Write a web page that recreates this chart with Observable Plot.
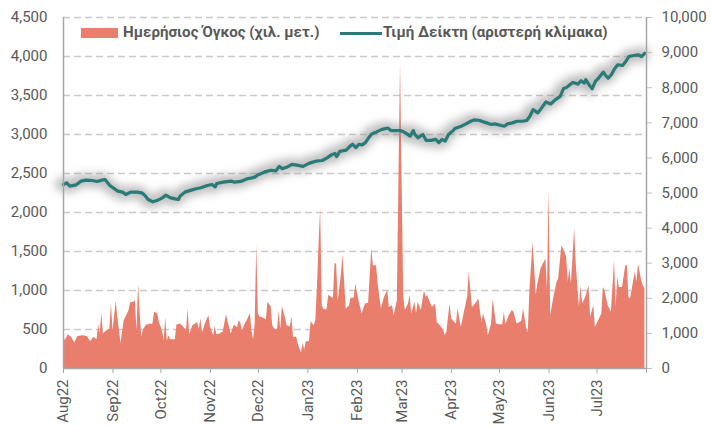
<!DOCTYPE html>
<html><head><meta charset="utf-8">
<script src="https://cdn.jsdelivr.net/npm/d3@7"></script>
<script src="https://cdn.jsdelivr.net/npm/@observablehq/plot@0.6"></script>
<style>
body{margin:0;background:#fff;}
#chart{position:relative;width:711px;height:426px;font-family:Roboto,sans-serif;}
.lt{position:absolute;font-size:15.1px;font-weight:bold;color:#595959;white-space:nowrap;line-height:17px;}
.sw{position:absolute;}
</style></head><body><div id="chart"></div>
<script>
// Legend labels
const seriesNames = ["Ημερήσιος Όγκος (χιλ. μετ.)", "Τιμή Δείκτη (αριστερή κλίμακα)"];

// Daily volume (right scale, 0–10,000)
const volDates = [
"2022-08-01","2022-08-02","2022-08-04","2022-08-06","2022-08-08","2022-08-10","2022-08-13","2022-08-16","2022-08-18","2022-08-20","2022-08-22","2022-08-23","2022-08-24","2022-08-25","2022-08-26","2022-08-28","2022-08-30","2022-08-31",
"2022-09-01","2022-09-03","2022-09-04","2022-09-06","2022-09-08","2022-09-11","2022-09-12","2022-09-14","2022-09-15","2022-09-16","2022-09-17","2022-09-18","2022-09-19","2022-09-20","2022-09-22","2022-09-26","2022-09-27","2022-09-29","2022-09-30",
"2022-10-02","2022-10-03","2022-10-04","2022-10-05","2022-10-06","2022-10-07","2022-10-10","2022-10-11","2022-10-13","2022-10-15","2022-10-17","2022-10-18","2022-10-19","2022-10-21","2022-10-24","2022-10-25","2022-10-26","2022-10-27","2022-10-29","2022-10-31",
"2022-11-01","2022-11-03","2022-11-04","2022-11-05","2022-11-07","2022-11-09","2022-11-11","2022-11-13","2022-11-14","2022-11-16","2022-11-18","2022-11-19","2022-11-20","2022-11-21","2022-11-23","2022-11-24","2022-11-26","2022-11-27","2022-11-28","2022-11-29","2022-11-30",
"2022-12-01","2022-12-02","2022-12-04","2022-12-06","2022-12-07","2022-12-09","2022-12-10","2022-12-11","2022-12-13","2022-12-14","2022-12-15","2022-12-16","2022-12-18","2022-12-19","2022-12-21","2022-12-22","2022-12-23","2022-12-25","2022-12-26","2022-12-28","2022-12-29","2022-12-30","2022-12-31",
"2023-01-02","2023-01-03","2023-01-05","2023-01-06","2023-01-07","2023-01-08","2023-01-09","2023-01-10","2023-01-11","2023-01-13","2023-01-14","2023-01-16","2023-01-17","2023-01-18","2023-01-19","2023-01-20","2023-01-22","2023-01-23","2023-01-25","2023-01-27","2023-01-28","2023-01-30","2023-01-31",
"2023-02-02","2023-02-04","2023-02-06","2023-02-08","2023-02-10","2023-02-11","2023-02-13","2023-02-14","2023-02-16","2023-02-18","2023-02-20","2023-02-21","2023-02-23","2023-02-24","2023-02-26","2023-02-28",
"2023-03-02","2023-03-03","2023-03-05","2023-03-06","2023-03-07","2023-03-09","2023-03-10","2023-03-11","2023-03-13","2023-03-15","2023-03-16","2023-03-17","2023-03-19","2023-03-20","2023-03-22","2023-03-23","2023-03-25","2023-03-27","2023-03-28","2023-03-29","2023-03-31",
"2023-04-01","2023-04-02","2023-04-04","2023-04-05","2023-04-07","2023-04-09","2023-04-11","2023-04-12","2023-04-14","2023-04-16","2023-04-18","2023-04-20","2023-04-21","2023-04-23","2023-04-24","2023-04-26","2023-04-27","2023-04-29",
"2023-05-01","2023-05-03","2023-05-04","2023-05-05","2023-05-07","2023-05-09","2023-05-10","2023-05-12","2023-05-14","2023-05-15","2023-05-16","2023-05-18","2023-05-19","2023-05-20","2023-05-22","2023-05-24","2023-05-25","2023-05-27","2023-05-29","2023-05-30","2023-05-31",
"2023-06-01","2023-06-02","2023-06-04","2023-06-06","2023-06-07","2023-06-09","2023-06-10","2023-06-12","2023-06-13","2023-06-14","2023-06-15","2023-06-17","2023-06-18","2023-06-20","2023-06-21","2023-06-22","2023-06-24","2023-06-26","2023-06-27","2023-06-29","2023-06-30",
"2023-07-02","2023-07-04","2023-07-05","2023-07-06","2023-07-08","2023-07-09","2023-07-10","2023-07-12","2023-07-13","2023-07-14","2023-07-15","2023-07-17","2023-07-19","2023-07-20","2023-07-21","2023-07-22","2023-07-24","2023-07-25","2023-07-26","2023-07-27","2023-07-29","2023-07-30","2023-07-31"];
const volValues = [
1070,780,960,890,730,910,930,910,760,890,820,1240,1000,1580,980,1070,1110,1840,
1070,1910,1470,710,1360,1640,1870,1890,1930,1070,2400,1560,890,1090,1240,1270,1600,1560,1310,
1070,780,1440,780,930,820,820,1240,1270,1200,1070,1690,960,1220,1310,1110,1420,1020,1290,1510,
1180,930,1200,960,980,1040,1530,1160,980,1240,1160,1360,1290,1070,1290,1360,1560,1070,820,1270,3510,
1560,1470,1440,1380,1890,1760,1220,1130,1090,1640,1110,1760,1440,1220,1180,1470,890,890,690,440,710,530,760,
760,1330,1220,1380,2330,3560,4560,1780,1690,1670,2090,2020,2000,3000,2960,1930,2670,3240,1690,1780,2000,2000,2400,
1920,1550,1840,1860,3410,2930,2930,2410,1700,2030,2220,1740,1790,1500,1930,8700,
2030,1650,1840,2080,1550,1890,1550,1890,1650,2220,2030,2080,1840,1740,1840,1310,1220,1080,930,1030,1840,
1410,1360,1270,1700,1170,1600,2030,2740,1740,1840,1980,1310,1550,1220,930,1270,1980,1270,
1250,1250,1600,1250,1500,1650,1600,1270,1310,1360,1700,1120,1030,2220,3600,2080,2410,2840,3030,3120,2220,
5100,1500,2030,2460,2550,3500,3410,3170,2460,2840,2410,3980,2980,1740,2360,1840,2030,2360,1460,1790,1170,
1360,1550,2310,2220,1790,1700,1600,3080,1740,2600,2310,2310,2930,2930,2030,1980,2500,2740,2460,2980,2500,2360,2270];

// Index price (left scale, 0–4,500)
const idxDates = [
"2022-08-01","2022-08-03","2022-08-05","2022-08-09","2022-08-12","2022-08-15","2022-08-19","2022-08-22","2022-08-25","2022-08-27","2022-08-30",
"2022-09-04","2022-09-07","2022-09-09","2022-09-12","2022-09-16","2022-09-19","2022-09-21","2022-09-23","2022-09-26","2022-09-29",
"2022-10-02","2022-10-04","2022-10-07","2022-10-10","2022-10-12","2022-10-13","2022-10-16","2022-10-20","2022-10-23","2022-10-26","2022-10-30",
"2022-11-02","2022-11-04","2022-11-05","2022-11-09","2022-11-14","2022-11-16","2022-11-20","2022-11-24","2022-11-27","2022-11-29",
"2022-12-01","2022-12-02","2022-12-05","2022-12-09","2022-12-12","2022-12-14","2022-12-16","2022-12-19","2022-12-22","2022-12-26","2022-12-29",
"2023-01-02","2023-01-06","2023-01-10","2023-01-13","2023-01-16","2023-01-18","2023-01-19","2023-01-21","2023-01-25","2023-01-27","2023-01-29","2023-01-31",
"2023-02-02","2023-02-04","2023-02-06","2023-02-08","2023-02-10","2023-02-13","2023-02-16","2023-02-20","2023-02-22","2023-02-25","2023-02-28",
"2023-03-02","2023-03-04","2023-03-06","2023-03-08","2023-03-09","2023-03-11","2023-03-14","2023-03-16","2023-03-19","2023-03-22","2023-03-24","2023-03-26","2023-03-28","2023-03-30",
"2023-04-02","2023-04-03","2023-04-07","2023-04-10","2023-04-13","2023-04-15","2023-04-18","2023-04-21","2023-04-23","2023-04-26","2023-04-28",
"2023-05-02","2023-05-04","2023-05-06","2023-05-09","2023-05-12","2023-05-15","2023-05-18","2023-05-20","2023-05-22","2023-05-25","2023-05-27","2023-05-30",
"2023-06-02","2023-06-05","2023-06-08","2023-06-10","2023-06-12","2023-06-14","2023-06-16","2023-06-19","2023-06-21","2023-06-23","2023-06-24","2023-06-26","2023-06-28","2023-06-30",
"2023-07-02","2023-07-05","2023-07-06","2023-07-08","2023-07-10","2023-07-12","2023-07-14","2023-07-17","2023-07-19","2023-07-21","2023-07-24","2023-07-27","2023-07-29","2023-07-31"];
const idxValues = [
2359,2380,2338,2355,2402,2415,2410,2398,2415,2423,2346,
2274,2261,2231,2261,2261,2252,2218,2167,2137,2158,
2188,2222,2188,2175,2167,2210,2261,2287,2304,2317,2346,
2359,2329,2372,2389,2402,2389,2398,2432,2444,2457,
2487,2492,2521,2542,2533,2592,2562,2583,2617,2604,2592,
2633,2658,2667,2700,2742,2758,2717,2783,2800,2842,2875,2833,
2875,2867,2896,2958,3008,3033,3063,3083,3050,3050,3050,
3033,3008,2979,3050,3000,2958,3000,2925,2925,2938,2896,2938,2917,3000,
3050,3077,3106,3136,3170,3187,3183,3162,3149,3128,3136,
3115,3106,3136,3149,3170,3170,3179,3234,3319,3277,3332,3417,
3391,3447,3489,3587,3604,3638,3668,3647,3689,3660,3702,3638,3587,3681,
3723,3800,3766,3723,3766,3843,3894,3885,3936,4000,4013,4021,4000,4043];

// Axes
const monthTicks = ["2022-08-01","2022-09-01","2022-10-01","2022-11-01","2022-12-01","2023-01-01","2023-02-01","2023-03-01","2023-04-01","2023-05-01","2023-06-01","2023-07-01","2023-08-01"];
const monthLabels = ["Aug22","Sep22","Oct22","Nov22","Dec22","Jan23","Feb23","Mar23","Apr23","May23","Jun23","Jul23",""];
const leftTicks = [0,500,1000,1500,2000,2500,3000,3500,4000,4500];
const rightTicks = [0,1000,2000,3000,4000,5000,6000,7000,8000,9000,10000];
const leftMax = 4500, rightMax = 10000;

const vol = volDates.map((d,i)=>({date:new Date(d), v:volValues[i]}));
const idx = idxDates.map((d,i)=>({date:new Date(d), v:idxValues[i]}));
const tickDates = monthTicks.map(d=>new Date(d));
const labelOf = new Map(tickDates.map((d,i)=>[+d, monthLabels[i]]));
const k = leftMax/rightMax;
const fmt = d3.format(",");
const axisCol = "#a6a6a6";

const plot = Plot.plot({
  width:711, height:426,
  marginTop:17, marginBottom:58, marginLeft:63, marginRight:65,
  style:{fontFamily:"Roboto, sans-serif", fontSize:"15px", color:"#595959", background:"#fff"},
  x:{type:"utc", domain:[tickDates[0], tickDates[tickDates.length-1]]},
  y:{domain:[0,leftMax]},
  marks:[
    Plot.ruleY(leftTicks.filter(t=>t>0), {stroke:"#c9c9c9", strokeWidth:1.5, strokeDasharray:"7,4"}),
    Plot.areaY(vol, {x:"date", y:d=>d.v*k, fill:"#E97E6D"}),
    Plot.lineY(idx, {x:"date", y:"v", stroke:"#8a8a8a", strokeOpacity:0.55, strokeWidth:13, dx:-2, dy:0}),
    Plot.lineY(idx, {x:"date", y:"v", stroke:"#2A7B78", strokeWidth:3.2}),
    Plot.ruleX([tickDates[0], tickDates[tickDates.length-1]], {stroke:axisCol, strokeWidth:1.5}),
    Plot.ruleY([0], {stroke:axisCol, strokeWidth:1.5}),
    Plot.axisY({ticks:leftTicks, tickSize:0, tickPadding:16, tickFormat:fmt, label:null}),
    Plot.axisY({anchor:"right", ticks:rightTicks.map(v=>v*k), tickSize:5, tickPadding:10, stroke:"#c0c0c0", tickFormat:d=>fmt(Math.round(d/k)), label:null}),
    Plot.axisX({ticks:tickDates, tickFormat:d=>labelOf.get(+d) ?? "", tickRotate:-90, tickSize:5, tickPadding:6, stroke:axisCol, label:null})
  ]
});

const chart = document.getElementById("chart");
chart.appendChild(plot);
const ns = "http://www.w3.org/2000/svg";
const defs = document.createElementNS(ns,"defs");
defs.innerHTML = '<filter id="sh" x="-5%" y="-30%" width="110%" height="160%"><feGaussianBlur stdDeviation="4"/></filter>';
plot.insertBefore(defs, plot.firstChild);
const lines = plot.querySelectorAll('g[aria-label="line"]');
if (lines.length) lines[0].setAttribute("filter","url(#sh)");

// Legend
function add(html){ chart.insertAdjacentHTML("beforeend", html); }
add(`<div class="sw" style="left:81px;top:28px;width:37px;height:10px;background:#E97E6D"></div>`);
add(`<div class="lt" style="left:123px;top:24px">${seriesNames[0]}</div>`);
add(`<div class="sw" style="left:340px;top:31.5px;width:42px;height:3px;background:#2A7B78"></div>`);
add(`<div class="lt" style="left:383px;top:24px">${seriesNames[1]}</div>`);
</script>
</body></html>
